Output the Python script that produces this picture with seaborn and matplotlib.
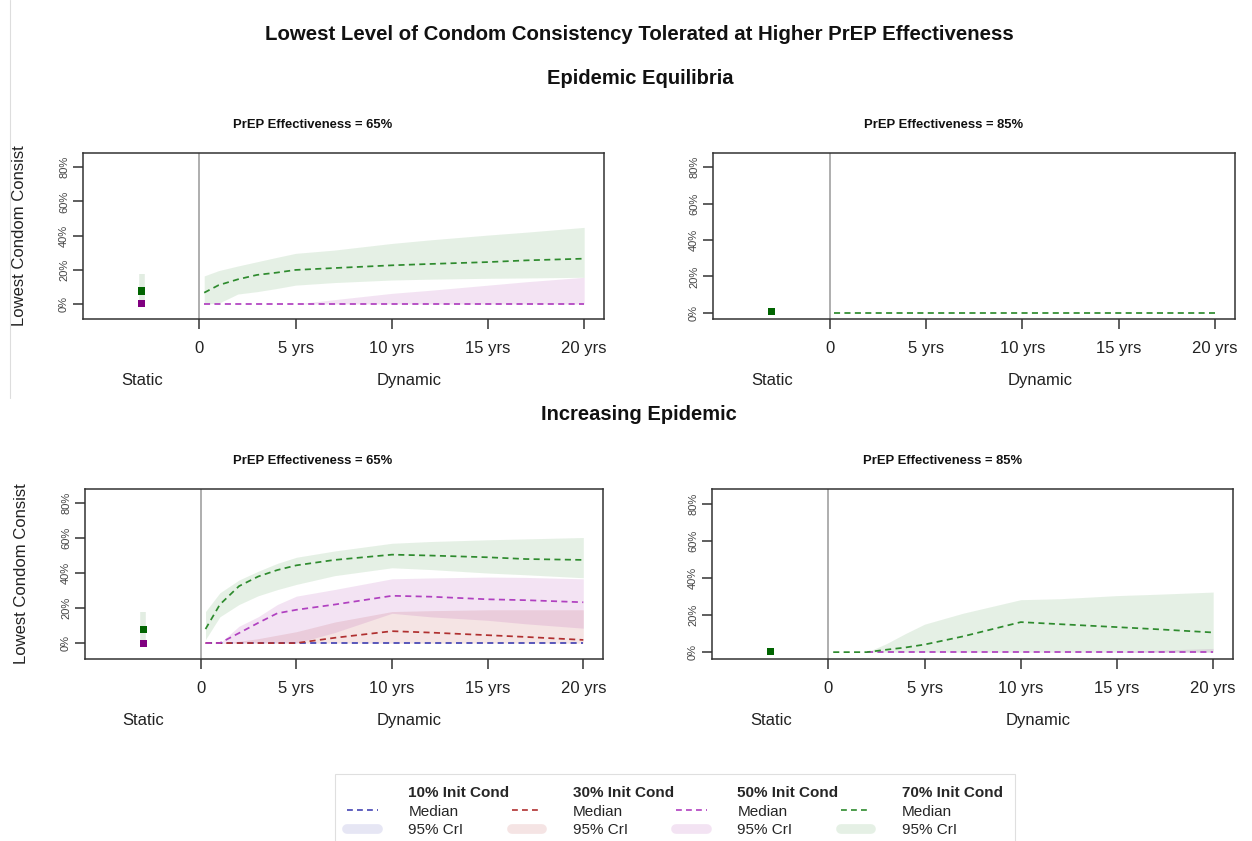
import numpy as np
import seaborn as sns
import matplotlib.pyplot as plt
from matplotlib.lines import Line2D

nan = np.nan

# time points (years) used by every dynamic series
years = [0.25, 1, 2, 3, 4, 5, 7, 10, 12, 15, 17, 20]

# Epidemic equilibria, PrEP effectiveness 65%
eq65_70_med = [0.066, 0.11, 0.144, 0.17, 0.183, 0.199, 0.21, 0.226, 0.234, 0.245, 0.255, 0.265]
eq65_70_lo = [0.0, 0.004, 0.058, 0.072, 0.09, 0.11, 0.125, 0.14, 0.145, 0.15, 0.152, 0.156]
eq65_70_hi = [0.164, 0.195, 0.222, 0.247, 0.272, 0.296, 0.315, 0.354, 0.375, 0.403, 0.42, 0.448]
eq65_50_med = [0, 0, 0, 0, 0, 0, 0, 0, 0, 0, 0, 0]
eq65_50_lo = [0, 0, 0, 0, 0, 0, 0, 0, 0, 0, 0, 0]
eq65_50_hi = [0, 0, 0, 0, 0, 0, 0.025, 0.062, 0.08, 0.11, 0.13, 0.156]

# Epidemic equilibria, PrEP effectiveness 85%
eq85_70_med = [0, 0, 0, 0, 0, 0, 0, 0, 0, 0, 0, 0]

# Increasing epidemic, PrEP effectiveness 65%
inc65_70_med = [0.08, 0.22, 0.325, 0.38, 0.417, 0.444, 0.475, 0.505, 0.50, 0.49, 0.48, 0.475]
inc65_70_lo = [0.02, 0.15, 0.22, 0.27, 0.305, 0.335, 0.385, 0.43, 0.42, 0.40, 0.39, 0.373]
inc65_70_hi = [0.18, 0.287, 0.36, 0.41, 0.455, 0.49, 0.526, 0.57, 0.58, 0.59, 0.595, 0.603]
inc65_50_med = [0, 0, 0.057, 0.115, 0.17, 0.19, 0.22, 0.27, 0.265, 0.25, 0.245, 0.233]
inc65_50_lo = [0, 0, 0, 0, 0, 0, 0.06, 0.17, 0.15, 0.13, 0.11, 0.085]
inc65_50_hi = [0, 0, 0.096, 0.15, 0.22, 0.268, 0.306, 0.367, 0.372, 0.377, 0.375, 0.367]
inc65_30_med = [0, 0, 0, 0, 0, 0, 0.03, 0.068, 0.06, 0.045, 0.035, 0.018]
inc65_30_lo = [0, 0, 0, 0, 0, 0, 0, 0, 0, 0, 0, 0]
inc65_30_hi = [0, 0, 0.01, 0.025, 0.045, 0.065, 0.12, 0.18, 0.185, 0.19, 0.19, 0.19]
inc65_10_med = [0, 0, 0, 0, 0, 0, 0, 0, 0, 0, 0, 0]

# Increasing epidemic, PrEP effectiveness 85%
inc85_70_med = [0, 0, 0, 0.013, 0.025, 0.041, 0.085, 0.162, 0.151, 0.135, 0.124, 0.106]
inc85_70_lo = [0, 0, 0, 0, 0, 0, 0, 0, 0, 0, 0, 0]
inc85_70_hi = [0, 0, 0, 0.045, 0.10, 0.151, 0.21, 0.283, 0.288, 0.305, 0.312, 0.324]
inc85_50_med = [nan, nan, 0, 0, 0, 0, 0, 0, 0, 0, 0, 0]
inc85_50_lo = [0, 0, 0, 0, 0, 0, 0, 0, 0, 0, 0, 0]
inc85_50_hi = [0, 0, 0, 0, 0, 0, 0, 0, 0, 0, 0.01, 0.02]

# static model estimates, one per panel (eq65, eq85, inc65, inc85)
static_70_med = [0.076, 0.006, 0.076, 0.003]
static_70_lo = [0.0, 0.006, 0.0, 0.003]
static_70_hi = [0.175, 0.006, 0.18, 0.003]
static_50_med = [0.0, nan, 0.0, nan]

init_conds = ["10%", "30%", "50%", "70%"]
line_cols = {"10%": "#4444B4", "30%": "#B03030", "50%": "#B040C0", "70%": "#2E8B2E"}
fill_cols = {"10%": "#3333AA", "30%": "#B22222", "50%": "#A020A0", "70%": "#2E8B2E"}
static_cols = {"50%": "#800080", "70%": "#006400"}
yticks = [0, 0.2, 0.4, 0.6, 0.8]
ytick_labels = ["0%", "20%", "40%", "60%", "80%"]
xticks = [0, 5, 10, 15, 20]
xtick_labels = ["0", "5 yrs", "10 yrs", "15 yrs", "20 yrs"]

panels = [
    {"title": "PrEP Effectiveness = 65%",
     "med": {"50%": eq65_50_med, "70%": eq65_70_med},
     "band": {"50%": (eq65_50_lo, eq65_50_hi), "70%": (eq65_70_lo, eq65_70_hi)}},
    {"title": "PrEP Effectiveness = 85%",
     "med": {"70%": eq85_70_med},
     "band": {}},
    {"title": "PrEP Effectiveness = 65%",
     "med": {"10%": inc65_10_med, "30%": inc65_30_med, "50%": inc65_50_med, "70%": inc65_70_med},
     "band": {"30%": (inc65_30_lo, inc65_30_hi), "50%": (inc65_50_lo, inc65_50_hi),
              "70%": (inc65_70_lo, inc65_70_hi)}},
    {"title": "PrEP Effectiveness = 85%",
     "med": {"50%": inc85_50_med, "70%": inc85_70_med},
     "band": {"50%": (inc85_50_lo, inc85_50_hi), "70%": (inc85_70_lo, inc85_70_hi)}},
]

rects = [
    [83 / 1252, 1 - 319 / 841, 521 / 1252, 166 / 841],
    [713 / 1252, 1 - 319 / 841, 522 / 1252, 166 / 841],
    [85 / 1252, 1 - 659 / 841, 518 / 1252, 170 / 841],
    [712 / 1252, 1 - 659 / 841, 521 / 1252, 170 / 841],
]
ylims = [(-0.088, 0.883), (-0.033, 0.877), (-0.091, 0.88), (-0.037, 0.88)]
title_x = [313 / 1252, 944 / 1252, 313 / 1252, 943 / 1252]

sns.set_style("white")
plt.rcParams["font.family"] = ["Liberation Sans", "DejaVu Sans"]

DASH = (0, (3.5, 2.5))
STATIC_X = -3

fig = plt.figure(figsize=(12.52, 8.41), dpi=100)

for i, p in enumerate(panels):
    ax = fig.add_axes(rects[i])
    for k in init_conds:
        if k in p["band"]:
            lo, hi = p["band"][k]
            ax.fill_between(years, lo, hi, color=fill_cols[k], alpha=0.12, lw=0)
    for k in init_conds:
        if k in p["med"]:
            sns.lineplot(x=years, y=p["med"][k], ax=ax, color=line_cols[k],
                         lw=1.25, linestyle=DASH)
    # static estimates
    ax.vlines(STATIC_X, static_70_lo[i], static_70_hi[i], color="#E2EDE2", lw=4, zorder=1)
    sns.scatterplot(x=[STATIC_X], y=[static_70_med[i]], ax=ax, marker="s", s=26,
                    color=static_cols["70%"], edgecolor="none", zorder=3)
    if not np.isnan(static_50_med[i]):
        sns.scatterplot(x=[STATIC_X], y=[static_50_med[i]], ax=ax, marker="s", s=26,
                        color=static_cols["50%"], edgecolor="none", zorder=3)
    ax.axvline(0, color="#999999", lw=1.1, zorder=0.5)

    ax.set_xlim(-6.05, 21.03)
    ax.set_ylim(*ylims[i])
    ax.set_xticks(xticks, xtick_labels)
    ax.set_yticks(yticks, ytick_labels)
    ax.tick_params(axis="x", length=7, width=1.1, pad=9, labelsize=12,
                   color="#333333", labelcolor="#222222", bottom=True)
    ax.tick_params(axis="y", length=7, width=1.1, pad=3, labelsize=8, labelrotation=90,
                   color="#333333", labelcolor="#444444", left=True)
    for lab in ax.get_yticklabels():
        lab.set_verticalalignment("center")
    for s in ax.spines.values():
        s.set_color("#333333")
        s.set_linewidth(1.1)
    ax.set_xlabel("")
    ax.set_ylabel("")
    if i % 2 == 0:
        ax.set_ylabel("Lowest Condom Consist", fontsize=12, color="#222222")
        ax.yaxis.set_label_coords(-0.108, 0.5)
    for txt, xv in [("Static", STATIC_X), ("Dynamic", 10.9)]:
        ax.annotate(txt, xy=(xv, 0), xycoords=("data", "axes fraction"),
                    xytext=(0, -44), textcoords="offset points",
                    ha="center", va="center", fontsize=12, color="#222222")
    top_px = 153 if i < 2 else 489
    fig.text(title_x[i], 1 - (top_px - 28) / 841, p["title"], ha="center", va="center",
             fontsize=9.4, fontweight="bold", color="#111111")

fig.text(0.511, 1 - 34 / 841,
         "Lowest Level of Condom Consistency Tolerated at Higher PrEP Effectiveness",
         ha="center", va="center", fontsize=14.7, fontweight="bold", color="#111111")
fig.text(0.511, 1 - 78 / 841, "Epidemic Equilibria", ha="center", va="center",
         fontsize=14.5, fontweight="bold", color="#111111")
fig.text(0.510, 1 - 415 / 841, "Increasing Epidemic", ha="center", va="center",
         fontsize=14.5, fontweight="bold", color="#111111")

# screenshot edge line at the left of the top half
fig.add_artist(Line2D([10 / 1252, 10 / 1252], [1 - 398 / 841, 1], color="#DDDDDD", lw=0.8))

# legend: one column per initial condition
handles, labels = [], []
for k in init_conds:
    handles.append(Line2D([], [], color="none"))
    labels.append(f"{k} Init Cond")
    handles.append(Line2D([], [], color=line_cols[k], lw=1.2, linestyle=DASH))
    labels.append("Median")
    handles.append(Line2D([], [], color=fill_cols[k], alpha=0.12, lw=7,
                          solid_capstyle="round"))
    labels.append("95% CrI")
leg = fig.legend(handles, labels, ncol=4, loc="upper left",
                 bbox_to_anchor=(335 / 1252, 1 - 774 / 841), fontsize=11,
                 frameon=True, fancybox=False, edgecolor="#D8D8D8",
                 handlelength=2.0, handletextpad=2.0, columnspacing=0.15,
                 labelspacing=0.3, borderpad=0.8, borderaxespad=0)
leg.get_frame().set_linewidth(0.8)
for t in leg.get_texts()[::3]:
    t.set_fontweight("bold")

fig.savefig("out.png", dpi=100)
